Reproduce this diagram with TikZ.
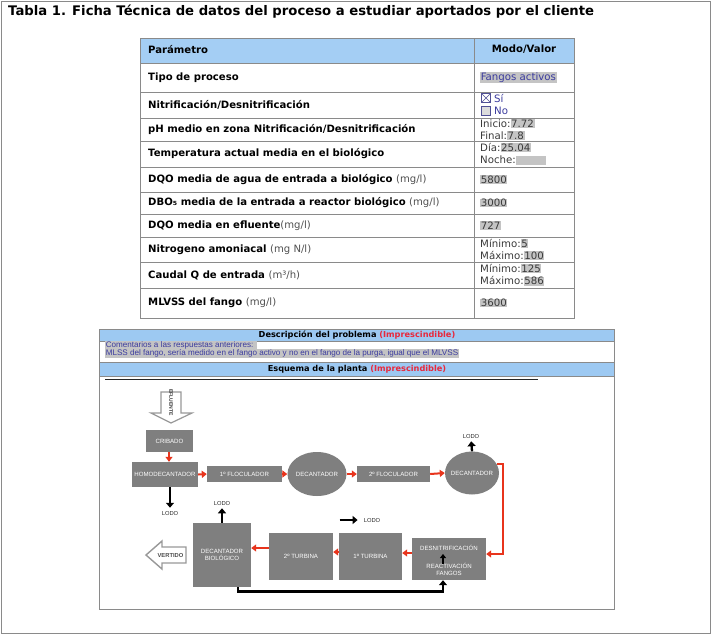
\documentclass[tikz,border=0pt]{standalone}
\usepackage{fontspec}
\setmainfont{DejaVu Sans}
\newfontfamily\arialf{Liberation Sans}
\usetikzlibrary{arrows.meta,shapes.geometric,calc}
\definecolor{hdrblue}{HTML}{A4CEF4}
\definecolor{hdrbluetwo}{HTML}{9DC9F2}
\definecolor{boxgray}{HTML}{7F7F7F}
\definecolor{linegray}{HTML}{8A8A8A}
\definecolor{redarr}{HTML}{E8341C}
\definecolor{valpurple}{HTML}{3B3B9E}
\definecolor{hlgray}{HTML}{C4C4C4}
\definecolor{valtext}{HTML}{3A3A3A}
\definecolor{unitgray}{HTML}{505050}
\definecolor{imprred}{HTML}{E8283C}
\newcommand\hlg[1]{{\setlength\fboxsep{0.6pt}\colorbox{hlgray}{#1}}}
\begin{document}
\begin{tikzpicture}[x=1pt,y=-1pt,
  param/.style={anchor=west, font=\fontsize{10.1}{12}\selectfont\bfseries, inner sep=0},
  val/.style={anchor=west, font=\fontsize{10.2}{12.3}\selectfont, text=valtext, inner sep=0, align=left},
  hdr/.style={font=\fontsize{8.2}{9}\selectfont\bfseries, inner sep=0},
  proc/.style={fill=boxgray, text=white, font=\arialf\fontsize{6.1}{7}\selectfont, inner sep=0, align=center},
  decell/.style={proc, ellipse, inner xsep=-7pt},
  lodo/.style={font=\arialf\fontsize{5.8}{6}\selectfont, text=black!85, inner sep=0},
  redarrow/.style={draw=redarr, line width=2pt, -{Triangle[length=5pt,width=7pt]}},
  blkarrow/.style={draw=black, line width=2.3pt, -{Triangle[length=5pt,width=8pt]}},
  chk/.style={draw=valpurple!70!gray, line width=0.7pt, minimum size=8.5pt, inner sep=0},
  cmt/.style={anchor=west, inner sep=0, font=\arialf\fontsize{8.1}{8.5}\selectfont, text=valpurple}
]
\useasboundingbox (0,0) rectangle (712,635);
\fill[white] (0,0) rectangle (712,635);
\draw[linegray, line width=1pt] (1.5,1.5) rectangle (710.5,633.5);
\node[anchor=west, inner sep=0, font=\fontsize{13.2}{15}\selectfont\bfseries] (title) at (8,12)
  {Tabla 1. Ficha Técnica de datos del proceso a estudiar aportados por el cliente};

% ---------- table ----------
\fill[hdrblue] (140,38) rectangle (574,63);
\foreach \yy in {63,92,118,141,167,192,214,237,262,288}
  \draw[linegray, line width=0.8pt] (140,\yy) -- (574,\yy);
\draw[linegray, line width=0.8pt] (474,38) -- (474,318);
\draw[linegray, line width=0.8pt] (140,38) rectangle (574,318);

\node[param] (h1) at (148,49.5) {Parámetro};
\node[param, anchor=center] (h2) at (524,49.5) {Modo/Valor};

\node[param] (p1) at (148,77.5) {Tipo de proceso};
\node[param] (p2) at (148,105) {Nitrificación/Desnitrificación};
\node[param] (p3) at (148,129.5) {pH medio en zona Nitrificación/Desnitrificación};
\node[param] (p4) at (148,154) {Temperatura actual media en el biológico};
\node[param] (p5) at (148,179.5) {DQO media de agua de entrada a biológico {\mdseries\color{unitgray}(mg/l)}};
\node[param] (p6) at (148,203) {DBO₅ media de la entrada a reactor biológico {\mdseries\color{unitgray}(mg/l)}};
\node[param] (p7) at (148,225.5) {DQO media en efluente{\mdseries\color{unitgray}(mg/l)}};
\node[param] (p8) at (148,249.5) {Nitrogeno amoniacal {\mdseries\color{unitgray}(mg N/l)}};
\node[param] (p9) at (148,275) {Caudal Q de entrada {\mdseries\color{unitgray}(m³/h)}};
\node[param] (p10) at (148,303) {MLVSS del fango {\mdseries\color{unitgray}(mg/l)}};

\node[val, text=valpurple] (v1) at (480,77.5) {\hlg{Fangos activos}};
\node[chk] (cb1) at (486,98) {};
\draw[valpurple!70!gray, line width=0.6pt] (cb1.north west) -- (cb1.south east) (cb1.north east) -- (cb1.south west);
\node[chk, fill=hlgray!60] (cb2) at (486,111) {};
\node[val, text=valpurple] (v2a) at (494,98) {Sí};
\node[val, text=valpurple] (v2b) at (494,111) {No};
\node[val] (v3) at (480,129.5) {Inicio:\hlg{7.72}\\Final:\hlg{7.8}};
\node[val] (v4) at (480,154) {Día:\hlg{25.04}\\Noche:\hlg{\phantom{00.00}}};
\node[val] (v5) at (480,179.5) {\hlg{5800}};
\node[val] (v6) at (480,203) {\hlg{3000}};
\node[val] (v7) at (480,225.5) {\hlg{727}};
\node[val] (v8) at (480,249.5) {Mínimo:\hlg{5}\\Máximo:\hlg{100}};
\node[val] (v9) at (480,275) {Mínimo:\hlg{125}\\Máximo:\hlg{586}};
\node[val] (v10) at (480,303) {\hlg{3600}};

% ---------- lower section ----------
\fill[hdrbluetwo] (99,329) rectangle (614,341);
\fill[hdrbluetwo] (99,362) rectangle (614,376);
\draw[linegray, line width=0.8pt] (99,329) rectangle (614,609);
\draw[linegray, line width=0.6pt] (99,341) -- (614,341) (99,362) -- (614,362) (99,376) -- (614,376);
\node[hdr] (d1) at (357,335) {Descripción del problema \textcolor{imprred}{(Imprescindible)}};
\node[cmt] (c1) at (105,345.5) {\hlg{Comentarios a las respuestas anteriores: }};
\node[cmt] (c2) at (105,353.5) {\hlg{MLSS del fango, sería medido en el fango activo y no en el fango de la purga, igual que el MLVSS}};
\node[hdr] (d2) at (357,369) {Esquema de la planta \textcolor{imprred}{(Imprescindible)}};
\draw[black!85, line width=1.3pt] (105,379.5) -- (538,379.5);

% ---------- plant diagram ----------
\draw[draw=gray!80, fill=white, line width=1.2pt]
  (161,392) -- (181,392) -- (181,413) -- (192,413) -- (171,423) -- (151,413) -- (161,413) -- cycle;
\node[rotate=-90, inner sep=0, font=\arialf\bfseries\fontsize{5}{5.5}\selectfont, text=black!80] (efl) at (171,402.5) {EFLUENTE};

\node[proc, minimum width=47pt, minimum height=22pt] (crib) at (169.5,441) {CRIBADO};
\node[proc, minimum width=66pt, minimum height=25pt] (homo) at (165,474.5) {HOMODECANTADOR};
\node[proc, minimum width=75pt, minimum height=16pt] (floc1) at (244.5,474) {1º FLOCULADOR};
\node[decell, minimum width=59pt, minimum height=44pt] (dec1) at (317,474) {DECANTADOR};
\node[proc, minimum width=73pt, minimum height=16pt] (floc2) at (393.5,474) {2º FLOCULADOR};
\node[decell, minimum width=54pt, minimum height=43pt] (dec2) at (472,473) {DECANTADOR};

\node[proc, minimum width=74pt, minimum height=42pt] (dr) at (449,559) {};
\node[proc, fill=none] (desn) at (449,548) {DESNITRIFICACIÓN};
\node[proc, fill=none] (reac) at (449,569.5) {REACTIVACIÓN\\FANGOS};
\node[proc, minimum width=63pt, minimum height=47pt] (tur1) at (370.5,556.5) {1º TURBINA};
\node[proc, minimum width=64pt, minimum height=47pt] (tur2) at (301,556.5) {2º TURBINA};
\node[proc, minimum width=58pt, minimum height=64pt] (decb) at (222,555) {DECANTADOR\\BIOLÓGICO};

\draw[draw=gray!80, fill=white, line width=1.4pt]
  (146,555) -- (162,541) -- (162,547) -- (186,547) -- (186,563) -- (162,563) -- (162,569) -- cycle;
\node[inner sep=0, font=\arialf\bfseries\fontsize{5.8}{6}\selectfont, text=black!70] (vert) at (170.5,555) {VERTIDO};

\node[lodo] (lodo1) at (170,513) {LODO};
\node[lodo] (lodo2) at (471,436) {LODO};
\node[lodo] (lodo3) at (222,503) {LODO};
\node[lodo] (lodo4) at (372,520) {LODO};

% red flow
\draw[redarrow] (crib.south -| 169,0) -- (homo.north -| 169,0);
\draw[redarrow] (homo.east) -- (floc1.west);
\draw[redarrow] (floc1.east) -- (dec1.west);
\draw[redarrow] (dec1.east) -- (floc2.west);
\draw[redarrow] (floc2.east) -- (dec2.west);
\draw[redarrow] (dec2.20) -| ($(dr.east)+(17,-5)$) -- ($(dr.east)+(0,-5)$);
\draw[redarrow] ($(dr.west)+(0,-6)$) -- ($(tur1.east)+(0,-3.5)$);
\draw[redarrow] ($(tur1.west)+(0,-4.5)$) -- ($(tur2.east)+(0,-4.5)$);
\draw[redarrow] ($(tur2.west)+(0,-8.5)$) -- ($(decb.east)+(0,-7)$);

% black flow
\draw[blkarrow, shorten >=3pt] (homo.south -| lodo1) -- (lodo1.north);
\draw[blkarrow, shorten >=3pt] (dec2.north) -- (lodo2.south);
\draw[blkarrow, shorten >=3pt] (decb.north) -- (lodo3.south);
\draw[blkarrow] ($(lodo4.west)+(-24,0)$) -- ($(lodo4.west)+(-6,0)$);
\draw[blkarrow, line width=2.6pt] ($(decb.south)+(16,0)$) -- ++(0,4) -| (dr.south -| 443,0);
\draw[draw=black, line width=1.6pt, -{Triangle[length=4pt,width=6pt]}] (443,563.5) -- (443,554);
\end{tikzpicture}
\end{document}
